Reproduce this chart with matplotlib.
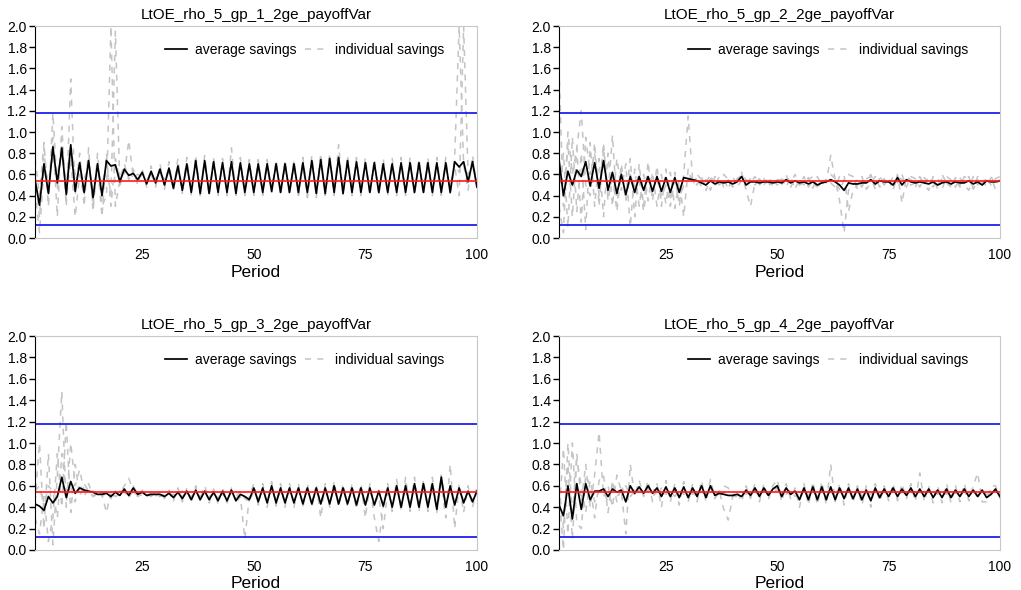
import matplotlib
matplotlib.use("Agg")
import matplotlib.pyplot as plt
from matplotlib.lines import Line2D

plt.rcParams['font.family'] = ['Liberation Sans', 'DejaVu Sans']

periods = list(range(1, 101))
titles = ["LtOE_rho_5_gp_1_2ge_payoffVar", "LtOE_rho_5_gp_2_2ge_payoffVar",
          "LtOE_rho_5_gp_3_2ge_payoffVar", "LtOE_rho_5_gp_4_2ge_payoffVar"]
steady_state = 0.54
bounds = [0.12, 1.18]

# ---- group 1 ----
avg_gp1 = [0.55, 0.31, 0.70, 0.42, 0.86, 0.52, 0.85, 0.41, 0.88, 0.44,
           0.71, 0.43, 0.73, 0.38, 0.70, 0.40, 0.73, 0.68, 0.69, 0.53,
           0.65, 0.59, 0.61, 0.55, 0.62, 0.51, 0.63, 0.52, 0.65, 0.50,
           0.66, 0.47, 0.68, 0.45, 0.70, 0.43, 0.73, 0.42, 0.73, 0.42,
           0.72, 0.43, 0.71, 0.43, 0.72, 0.42, 0.71, 0.43, 0.70, 0.43,
           0.70, 0.43, 0.70, 0.44, 0.70, 0.43, 0.70, 0.43, 0.70, 0.43,
           0.71, 0.43, 0.73, 0.42, 0.74, 0.42, 0.75, 0.43, 0.76, 0.42,
           0.73, 0.43, 0.72, 0.43, 0.71, 0.43, 0.71, 0.43, 0.70, 0.43,
           0.70, 0.43, 0.71, 0.43, 0.71, 0.43, 0.71, 0.43, 0.71, 0.43,
           0.71, 0.43, 0.71, 0.43, 0.72, 0.67, 0.72, 0.53, 0.72, 0.48]
ind_gp1_a = [0.60, 0.20, 0.85, 0.30, 1.18, 0.45, 0.95, 0.30, 1.50, 0.40,
             0.80, 0.30, 0.85, 0.25, 0.80, 0.30, 0.40, 2.00, 0.30, 0.55,
             0.70, 0.55, 0.65, 0.50, 0.65, 0.48, 0.68, 0.48, 0.70, 0.46,
             0.72, 0.44, 0.75, 0.42, 0.76, 0.40, 0.78, 0.40, 0.78, 0.40,
             0.76, 0.40, 0.75, 0.40, 0.85, 0.40, 0.76, 0.40, 0.74, 0.40,
             0.74, 0.40, 0.74, 0.42, 0.74, 0.40, 0.74, 0.40, 0.74, 0.38,
             0.76, 0.40, 0.78, 0.38, 0.80, 0.40, 0.80, 0.40, 0.88, 0.40,
             0.78, 0.40, 0.76, 0.40, 0.76, 0.40, 0.75, 0.40, 0.75, 0.40,
             0.75, 0.40, 0.76, 0.40, 0.76, 0.40, 0.75, 0.40, 0.76, 0.40,
             0.76, 0.40, 0.76, 0.40, 0.76, 2.00, 0.70, 0.45, 0.78, 0.45]
ind_gp1_b = [0.45, 0.05, 0.65, 0.55, 0.75, 0.60, 0.80, 0.50, 0.85, 0.60,
             0.65, 0.55, 0.70, 0.45, 0.65, 0.50, 0.70, 0.40, 1.95, 0.50,
             0.60, 0.92, 0.58, 0.60, 0.58, 0.55, 0.60, 0.56, 0.62, 0.55,
             0.62, 0.50, 0.64, 0.48, 0.66, 0.46, 0.70, 0.45, 0.70, 0.45,
             0.70, 0.46, 0.68, 0.46, 0.69, 0.45, 0.68, 0.46, 0.67, 0.46,
             0.67, 0.46, 0.67, 0.47, 0.67, 0.46, 0.67, 0.46, 0.67, 0.45,
             0.68, 0.38, 0.70, 0.45, 0.70, 0.45, 0.72, 0.46, 0.72, 0.45,
             0.70, 0.46, 0.69, 0.46, 0.68, 0.46, 0.68, 0.46, 0.67, 0.46,
             0.67, 0.46, 0.68, 0.46, 0.68, 0.46, 0.68, 0.46, 0.68, 0.46,
             0.68, 0.46, 0.68, 0.46, 0.68, 0.40, 2.00, 0.60, 0.68, 0.50]
ind_gp1_c = [0.75, 0.40, 0.90, 0.35, 0.95, 0.20, 1.05, 0.35, 0.75, 0.20,
             0.60, 0.40, 0.75, 0.30, 0.70, 0.20, 0.80, 0.30, 0.75, 0.55,
             0.62, 0.60, 0.58, 0.55, 0.60, 0.52, 0.60, 0.50, 0.62, 0.50,
             0.65, 0.46, 0.66, 0.45, 0.68, 0.44, 0.72, 0.43, 0.72, 0.43,
             0.70, 0.44, 0.70, 0.44, 0.70, 0.43, 0.70, 0.44, 0.70, 0.44,
             0.70, 0.44, 0.70, 0.45, 0.70, 0.44, 0.70, 0.44, 0.70, 0.40,
             0.70, 0.44, 0.72, 0.43, 0.73, 0.43, 0.74, 0.44, 0.74, 0.43,
             0.72, 0.44, 0.71, 0.44, 0.70, 0.44, 0.70, 0.44, 0.69, 0.44,
             0.69, 0.44, 0.70, 0.44, 0.70, 0.44, 0.70, 0.44, 0.70, 0.44,
             0.70, 0.44, 0.70, 0.44, 0.70, 0.62, 0.70, 0.52, 0.70, 0.48]

# ---- group 2 ----
avg_gp2 = [0.74, 0.40, 0.63, 0.50, 0.64, 0.58, 0.72, 0.49, 0.71, 0.47,
           0.73, 0.45, 0.62, 0.42, 0.60, 0.41, 0.58, 0.43, 0.58, 0.45,
           0.58, 0.44, 0.58, 0.44, 0.57, 0.43, 0.57, 0.43, 0.57, 0.56,
           0.55, 0.54, 0.52, 0.50, 0.54, 0.51, 0.53, 0.52, 0.53, 0.51,
           0.53, 0.58, 0.50, 0.53, 0.53, 0.52, 0.53, 0.53, 0.52, 0.53,
           0.52, 0.55, 0.52, 0.54, 0.52, 0.53, 0.51, 0.53, 0.50, 0.52,
           0.53, 0.55, 0.53, 0.50, 0.45, 0.52, 0.51, 0.51, 0.52, 0.52,
           0.55, 0.51, 0.54, 0.53, 0.53, 0.50, 0.57, 0.50, 0.55, 0.53,
           0.52, 0.53, 0.52, 0.51, 0.53, 0.50, 0.52, 0.53, 0.51, 0.53,
           0.52, 0.52, 0.54, 0.51, 0.53, 0.50, 0.54, 0.53, 0.53, 0.54]
ind_gp2_a = [1.60, 0.30, 0.90, 0.20, 0.85, 1.20, 0.50, 0.40, 0.90, 0.30,
             0.85, 0.40, 0.97, 0.30, 0.70, 0.35, 0.75, 0.20, 0.70, 0.30,
             0.72, 0.35, 0.68, 0.30, 0.65, 0.35, 0.62, 0.30, 0.60, 1.15,
             0.55, 0.50, 0.58, 0.45, 0.56, 0.50, 0.58, 0.48, 0.55, 0.50,
             0.56, 0.62, 0.45, 0.30, 0.52, 0.56, 0.50, 0.58, 0.48, 0.55,
             0.50, 0.60, 0.48, 0.56, 0.50, 0.58, 0.48, 0.55, 0.46, 0.56,
             0.52, 0.78, 0.55, 0.35, 0.05, 0.45, 0.50, 0.55, 0.48, 0.56,
             0.58, 0.46, 0.57, 0.50, 0.56, 0.45, 0.60, 0.33, 0.58, 0.55,
             0.48, 0.58, 0.50, 0.45, 0.58, 0.46, 0.56, 0.52, 0.48, 0.57,
             0.50, 0.55, 0.58, 0.46, 0.55, 0.48, 0.58, 0.50, 0.56, 0.58]
ind_gp2_b = [0.40, 0.80, 0.10, 0.95, 0.25, 0.80, 0.08, 0.90, 0.30, 0.75,
             0.20, 0.80, 0.30, 0.75, 0.45, 0.70, 0.10, 0.65, 0.30, 0.60,
             0.35, 0.62, 0.30, 0.60, 0.32, 0.62, 0.28, 0.55, 0.20, 0.65,
             0.50, 0.58, 0.48, 0.55, 0.45, 0.58, 0.50, 0.56, 0.46, 0.58,
             0.48, 0.55, 0.52, 0.56, 0.50, 0.55, 0.56, 0.48, 0.57, 0.50,
             0.56, 0.48, 0.58, 0.46, 0.56, 0.50, 0.57, 0.47, 0.58, 0.50,
             0.56, 0.52, 0.48, 0.58, 0.60, 0.25, 0.45, 0.50, 0.58, 0.46,
             0.52, 0.58, 0.48, 0.56, 0.50, 0.58, 0.52, 0.60, 0.48, 0.58,
             0.56, 0.48, 0.57, 0.52, 0.48, 0.56, 0.46, 0.58, 0.55, 0.48,
             0.57, 0.50, 0.45, 0.58, 0.50, 0.56, 0.48, 0.57, 0.46, 0.45]
ind_gp2_c = [0.30, 0.05, 1.00, 0.60, 0.85, 0.15, 0.95, 0.60, 0.80, 0.40,
             0.90, 0.35, 0.60, 0.25, 0.65, 0.35, 0.60, 0.48, 0.55, 0.25,
             0.55, 0.45, 0.55, 0.40, 0.50, 0.30, 0.55, 0.35, 0.50, 0.55,
             0.58, 0.60, 0.55, 0.52, 0.60, 0.48, 0.55, 0.60, 0.55, 0.48,
             0.55, 0.60, 0.55, 0.52, 0.58, 0.50, 0.55, 0.52, 0.50, 0.55,
             0.55, 0.58, 0.52, 0.60, 0.50, 0.52, 0.55, 0.58, 0.48, 0.52,
             0.55, 0.60, 0.56, 0.45, 0.55, 0.60, 0.58, 0.46, 0.52, 0.55,
             0.60, 0.50, 0.58, 0.52, 0.55, 0.47, 0.58, 0.55, 0.52, 0.50,
             0.52, 0.58, 0.50, 0.58, 0.52, 0.48, 0.60, 0.52, 0.50, 0.55,
             0.48, 0.58, 0.55, 0.48, 0.58, 0.52, 0.55, 0.58, 0.50, 0.55]

# ---- group 3 ----
avg_gp3 = [0.43, 0.41, 0.37, 0.50, 0.44, 0.50, 0.68, 0.49, 0.64, 0.53,
           0.58, 0.56, 0.55, 0.54, 0.52, 0.52, 0.53, 0.50, 0.54, 0.51,
           0.57, 0.51, 0.58, 0.52, 0.54, 0.51, 0.52, 0.52, 0.52, 0.50,
           0.53, 0.49, 0.54, 0.48, 0.55, 0.47, 0.56, 0.47, 0.55, 0.47,
           0.54, 0.46, 0.55, 0.46, 0.56, 0.46, 0.52, 0.50, 0.47, 0.58,
           0.45, 0.58, 0.44, 0.60, 0.44, 0.58, 0.44, 0.58, 0.44, 0.58,
           0.43, 0.58, 0.43, 0.58, 0.43, 0.58, 0.43, 0.60, 0.43, 0.58,
           0.43, 0.58, 0.42, 0.58, 0.42, 0.58, 0.42, 0.55, 0.41, 0.58,
           0.40, 0.60, 0.40, 0.60, 0.40, 0.62, 0.40, 0.62, 0.40, 0.62,
           0.38, 0.68, 0.40, 0.60, 0.42, 0.58, 0.44, 0.55, 0.45, 0.55]
ind_gp3_a = [0.45, 1.00, 0.20, 0.90, 0.05, 0.70, 1.48, 0.40, 1.00, 0.60,
             0.75, 0.55, 0.62, 0.50, 0.55, 0.52, 0.35, 0.55, 0.50, 0.52,
             0.60, 0.67, 0.55, 0.50, 0.56, 0.50, 0.54, 0.50, 0.55, 0.48,
             0.56, 0.46, 0.58, 0.45, 0.58, 0.44, 0.60, 0.45, 0.58, 0.44,
             0.57, 0.43, 0.58, 0.44, 0.58, 0.44, 0.50, 0.10, 0.50, 0.62,
             0.42, 0.62, 0.40, 0.64, 0.41, 0.62, 0.40, 0.62, 0.40, 0.62,
             0.40, 0.62, 0.40, 0.62, 0.30, 0.62, 0.40, 0.64, 0.40, 0.62,
             0.40, 0.62, 0.38, 0.62, 0.30, 0.62, 0.30, 0.08, 0.40, 0.62,
             0.36, 0.66, 0.36, 0.68, 0.36, 0.68, 0.36, 0.66, 0.36, 0.68,
             0.35, 0.62, 0.30, 0.80, 0.20, 0.62, 0.35, 0.60, 0.40, 0.60]
ind_gp3_b = [0.30, 0.15, 0.50, 0.08, 0.30, 0.90, 0.40, 1.20, 0.35, 0.80,
             0.50, 0.62, 0.55, 0.50, 0.52, 0.50, 0.55, 0.48, 0.55, 0.50,
             0.55, 0.48, 0.60, 0.52, 0.55, 0.52, 0.50, 0.54, 0.50, 0.52,
             0.50, 0.52, 0.50, 0.55, 0.52, 0.50, 0.54, 0.50, 0.53, 0.50,
             0.52, 0.50, 0.52, 0.48, 0.54, 0.50, 0.55, 0.48, 0.45, 0.55,
             0.48, 0.55, 0.47, 0.56, 0.46, 0.55, 0.46, 0.55, 0.46, 0.56,
             0.45, 0.55, 0.46, 0.56, 0.46, 0.56, 0.45, 0.57, 0.46, 0.56,
             0.45, 0.56, 0.45, 0.55, 0.45, 0.56, 0.44, 0.50, 0.20, 0.55,
             0.43, 0.58, 0.43, 0.58, 0.42, 0.60, 0.42, 0.60, 0.42, 0.58,
             0.40, 0.70, 0.42, 0.58, 0.45, 0.55, 0.46, 0.52, 0.47, 0.50]
ind_gp3_c = [0.55, 0.60, 0.40, 0.60, 0.55, 0.30, 0.90, 0.55, 0.60, 0.45,
             0.62, 0.50, 0.58, 0.55, 0.50, 0.54, 0.50, 0.52, 0.50, 0.55,
             0.55, 0.50, 0.55, 0.50, 0.52, 0.50, 0.52, 0.50, 0.50, 0.52,
             0.52, 0.50, 0.53, 0.50, 0.54, 0.48, 0.55, 0.48, 0.60, 0.48,
             0.54, 0.48, 0.55, 0.47, 0.54, 0.48, 0.52, 0.50, 0.48, 0.56,
             0.46, 0.57, 0.45, 0.58, 0.45, 0.57, 0.45, 0.57, 0.45, 0.57,
             0.44, 0.57, 0.44, 0.56, 0.44, 0.57, 0.44, 0.58, 0.44, 0.57,
             0.44, 0.57, 0.43, 0.57, 0.43, 0.57, 0.43, 0.56, 0.42, 0.57,
             0.42, 0.60, 0.42, 0.62, 0.41, 0.62, 0.41, 0.62, 0.42, 0.62,
             0.40, 0.68, 0.42, 0.60, 0.44, 0.58, 0.45, 0.55, 0.46, 0.55]

# ---- group 4 ----
avg_gp4 = [0.42, 0.32, 0.60, 0.29, 0.62, 0.38, 0.62, 0.47, 0.55, 0.55,
           0.57, 0.50, 0.57, 0.54, 0.56, 0.45, 0.60, 0.53, 0.59, 0.53,
           0.60, 0.53, 0.58, 0.50, 0.59, 0.50, 0.58, 0.49, 0.59, 0.49,
           0.58, 0.50, 0.60, 0.49, 0.60, 0.51, 0.53, 0.52, 0.51, 0.51,
           0.52, 0.50, 0.56, 0.51, 0.58, 0.50, 0.58, 0.51, 0.57, 0.60,
           0.50, 0.58, 0.52, 0.55, 0.47, 0.58, 0.47, 0.59, 0.47, 0.59,
           0.47, 0.59, 0.47, 0.58, 0.48, 0.58, 0.48, 0.57, 0.47, 0.56,
           0.46, 0.58, 0.49, 0.57, 0.50, 0.58, 0.50, 0.57, 0.51, 0.58,
           0.50, 0.57, 0.50, 0.57, 0.49, 0.56, 0.49, 0.57, 0.49, 0.56,
           0.50, 0.57, 0.50, 0.56, 0.50, 0.56, 0.49, 0.52, 0.57, 0.50]
ind_gp4_a = [0.55, 0.00, 1.00, 0.30, 0.90, 0.45, 0.80, 0.40, 0.70, 1.10,
             0.50, 0.60, 0.40, 0.70, 0.55, 0.15, 0.80, 0.50, 0.65, 0.50,
             0.65, 0.45, 0.62, 0.40, 0.65, 0.45, 0.62, 0.42, 0.64, 0.45,
             0.62, 0.45, 0.65, 0.45, 0.66, 0.48, 0.55, 0.38, 0.28, 0.50,
             0.55, 0.45, 0.60, 0.48, 0.62, 0.45, 0.62, 0.47, 0.60, 0.66,
             0.45, 0.62, 0.48, 0.58, 0.40, 0.62, 0.42, 0.64, 0.42, 0.64,
             0.42, 0.80, 0.45, 0.62, 0.42, 0.62, 0.44, 0.60, 0.42, 0.60,
             0.40, 0.62, 0.45, 0.60, 0.46, 0.62, 0.46, 0.62, 0.48, 0.62,
             0.45, 0.72, 0.45, 0.60, 0.44, 0.60, 0.44, 0.62, 0.44, 0.60,
             0.45, 0.62, 0.46, 0.60, 0.72, 0.45, 0.45, 0.60, 0.60, 0.48]
ind_gp4_b = [0.30, 0.95, 0.15, 1.00, 0.25, 0.20, 0.70, 0.60, 0.30, 0.65,
             0.70, 0.35, 0.65, 0.45, 0.60, 0.50, 0.55, 0.58, 0.55, 0.58,
             0.55, 0.60, 0.50, 0.58, 0.52, 0.56, 0.50, 0.56, 0.52, 0.55,
             0.52, 0.55, 0.54, 0.52, 0.55, 0.53, 0.50, 0.54, 0.52, 0.50,
             0.50, 0.54, 0.52, 0.55, 0.54, 0.52, 0.55, 0.54, 0.55, 0.56,
             0.55, 0.52, 0.56, 0.50, 0.53, 0.55, 0.52, 0.55, 0.50, 0.56,
             0.52, 0.55, 0.50, 0.55, 0.52, 0.55, 0.52, 0.55, 0.52, 0.54,
             0.52, 0.55, 0.52, 0.54, 0.53, 0.55, 0.52, 0.54, 0.53, 0.55,
             0.54, 0.52, 0.55, 0.53, 0.54, 0.52, 0.55, 0.52, 0.54, 0.53,
             0.55, 0.52, 0.54, 0.53, 0.50, 0.55, 0.52, 0.53, 0.55, 0.52]
ind_gp4_c = [0.60, 0.20, 0.80, 0.10, 0.85, 0.60, 0.35, 0.65, 0.45, 0.55,
             0.55, 0.45, 0.60, 0.50, 0.55, 0.60, 0.50, 0.55, 0.58, 0.52,
             0.58, 0.52, 0.56, 0.52, 0.58, 0.50, 0.56, 0.52, 0.58, 0.50,
             0.56, 0.52, 0.58, 0.52, 0.58, 0.50, 0.55, 0.60, 0.58, 0.52,
             0.52, 0.52, 0.55, 0.50, 0.58, 0.52, 0.57, 0.52, 0.56, 0.58,
             0.52, 0.58, 0.54, 0.54, 0.50, 0.56, 0.50, 0.57, 0.50, 0.57,
             0.50, 0.56, 0.50, 0.56, 0.50, 0.56, 0.50, 0.56, 0.50, 0.55,
             0.48, 0.56, 0.50, 0.55, 0.52, 0.56, 0.52, 0.55, 0.52, 0.56,
             0.52, 0.55, 0.52, 0.56, 0.50, 0.55, 0.50, 0.56, 0.50, 0.55,
             0.50, 0.56, 0.52, 0.55, 0.50, 0.56, 0.50, 0.54, 0.55, 0.50]

averages = [avg_gp1, avg_gp2, avg_gp3, avg_gp4]
individuals = [[ind_gp1_a, ind_gp1_b, ind_gp1_c],
               [ind_gp2_a, ind_gp2_b, ind_gp2_c],
               [ind_gp3_a, ind_gp3_b, ind_gp3_c],
               [ind_gp4_a, ind_gp4_b, ind_gp4_c]]

fig = plt.figure(figsize=(10.21, 5.9), dpi=100)
# axes boxes in figure fractions [left, bottom, width, height]
boxes = [[0.0343, 0.5966, 0.4329, 0.3593],
         [0.5475, 0.5966, 0.4319, 0.3593],
         [0.0343, 0.0678, 0.4329, 0.3627],
         [0.5475, 0.0678, 0.4319, 0.3627]]

dash = (0, (4, 4))
for i in range(4):
    ax = fig.add_axes(boxes[i])
    for ind in individuals[i]:
        ax.plot(periods, ind, color='#c4c4c4', linestyle=dash, linewidth=1.1)
    ax.plot(periods, averages[i], color='black', linewidth=1.25)
    ax.axhline(steady_state, color='#ff1a1a', linewidth=1.2)
    for b in bounds:
        ax.axhline(b, color='#2020ee', linewidth=1.3)

    ax.set_xlim(1, 100)
    ax.set_ylim(0, 2.0)
    ax.set_xticks([25, 50, 75, 100])
    ax.set_yticks([0.0, 0.2, 0.4, 0.6, 0.8, 1.0, 1.2, 1.4, 1.6, 1.8, 2.0])
    ax.set_yticklabels(['0.0', '0.2', '0.4', '0.6', '0.8', '1.0', '1.2', '1.4', '1.6', '1.8', '2.0'])
    ax.tick_params(axis='y', direction='out', length=4, width=1, labelsize=10, pad=2)
    ax.tick_params(axis='x', length=0, labelsize=10, pad=7)
    for s in ['top', 'right', 'bottom']:
        ax.spines[s].set_color('#c8c8c8')
    ax.spines['left'].set_color('black')
    ax.set_title(titles[i], fontsize=11, pad=5)
    ax.set_xlabel('Period', fontsize=12.5, labelpad=2)

    handles = [Line2D([], [], color='black', linewidth=1.25),
               Line2D([], [], color='#c4c4c4', linestyle=dash, linewidth=1.1)]
    ax.legend(handles, ['average savings', 'individual savings'], loc='center',
              bbox_to_anchor=(0.61, 0.887), ncol=2, frameon=False, fontsize=10,
              handlelength=1.6, handletextpad=0.6, columnspacing=0.6)

fig.savefig('out.png', dpi=100)
